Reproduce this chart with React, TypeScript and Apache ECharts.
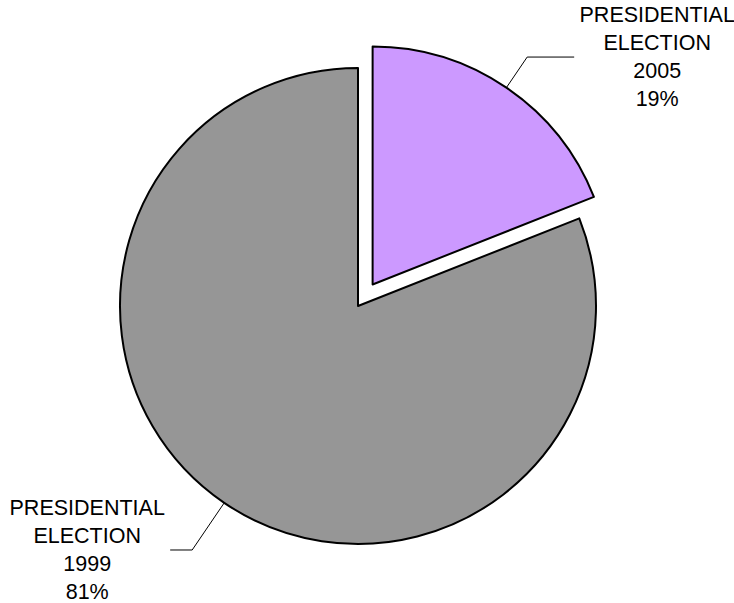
import React, { useEffect, useRef } from "react";
import * as echarts from "echarts";

const categories = ["PRESIDENTIAL ELECTION 2005", "PRESIDENTIAL ELECTION 1999"];
const values = [19, 81];
const colors = ["#CC99FF", "#969696"];
const lineLengths = [37, 57];
const lineLengths2 = [47, 22];

export default function App() {
  const ref = useRef<HTMLDivElement>(null);
  useEffect(() => {
    if (!ref.current) return;
    const chart = echarts.init(ref.current, null, { renderer: "svg" });
    const data = categories.map((name, i) => ({
      name,
      value: values[i],
      selected: i === 0,
      itemStyle: { color: colors[i], borderColor: "#000", borderWidth: 2 },
      select: { itemStyle: { color: colors[i], borderColor: "#000", borderWidth: 2 } },
      labelLine: { length: lineLengths[i], length2: lineLengths2[i] },
    }));
    chart.setOption({
      animation: false,
      backgroundColor: "#ffffff",
      series: [
        {
          type: "pie",
          center: [358, 306],
          radius: [0, 238],
          startAngle: 90,
          clockwise: true,
          selectedMode: "single",
          selectedOffset: 26,
          avoidLabelOverlap: false,
          emphasis: { disabled: true },
          label: {
            show: true,
            position: "outside",
            alignTo: "none",
            distanceToLabelLine: 5,
            color: "#000",
            fontFamily: "Liberation Sans, Arial, sans-serif",
            fontSize: 21.5,
            formatter: (p: any) => {
              const lines = [...p.name.split(" "), `${Math.round(p.percent)}%`];
              return lines.map((l: string) => `{t|${l}}`).join("\n");
            },
            rich: {
              t: {
                width: 156,
                align: "center",
                fontSize: 21.5,
                lineHeight: 27.8,
                color: "#000",
                fontFamily: "Liberation Sans, Arial, sans-serif",
              },
            },
          },
          labelLine: {
            show: true,
            smooth: false,
            lineStyle: { color: "#000", width: 1 },
          },
          data,
        },
      ],
    });
    return () => chart.dispose();
  }, []);
  return (
    <div
      ref={ref}
      style={{ position: "absolute", left: 0, top: 0, width: 734, height: 603 }}
    />
  );
}
